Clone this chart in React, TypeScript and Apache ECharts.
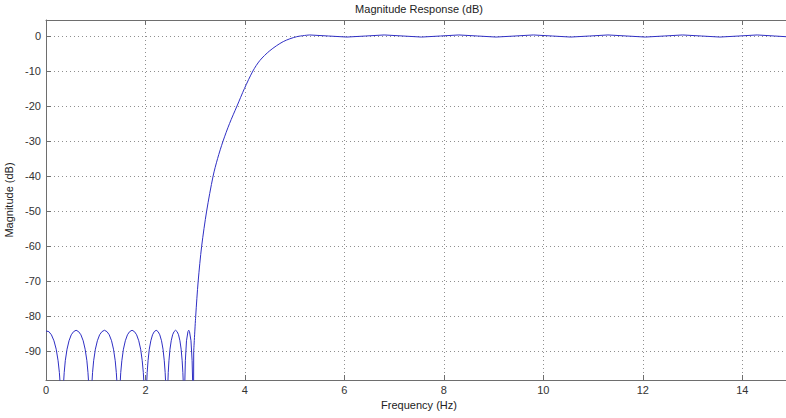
import React, { useEffect, useRef } from 'react';
import * as echarts from 'echarts';

// Stopband lobes (frequency in Hz, magnitude in dB); nulls dip below the visible axis range
const lobe0Freq = [0, 0.058, 0.109, 0.16, 0.205, 0.243, 0.269, 0.288, 0.307, 0.32];
const lobe0Mag = [-84.2, -84.4, -85.3, -87.0, -89.4, -92.7, -96.1, -100, -110, -140];

const lobe1Freq = [0.331, 0.349, 0.366, 0.388, 0.423, 0.463, 0.508, 0.554, 0.605, 0.656, 0.702, 0.748, 0.787, 0.822, 0.844, 0.862, 0.879, 0.89];
const lobe2Freq = [0.901, 0.919, 0.936, 0.958, 0.993, 1.033, 1.078, 1.124, 1.175, 1.226, 1.272, 1.318, 1.357, 1.392, 1.414, 1.432, 1.449, 1.46];
const lobe3Freq = [1.471, 1.487, 1.503, 1.525, 1.557, 1.595, 1.638, 1.681, 1.73, 1.779, 1.822, 1.865, 1.903, 1.935, 1.957, 1.973, 1.989, 2.0];
const lobe4Freq = [2.009, 2.022, 2.034, 2.052, 2.077, 2.108, 2.142, 2.176, 2.215, 2.254, 2.288, 2.323, 2.353, 2.378, 2.396, 2.409, 2.421, 2.43];
const lobe5Freq = [2.437, 2.448, 2.458, 2.472, 2.493, 2.518, 2.546, 2.574, 2.605, 2.637, 2.665, 2.693, 2.717, 2.738, 2.752, 2.763, 2.773, 2.78];
const lobeMag = [-110, -100, -96.1, -92.7, -89.4, -87.0, -85.3, -84.4, -84.0, -84.4, -85.3, -87.0, -89.4, -92.7, -96.1, -100, -110, -140];

const lobe6Freq = [2.789, 2.802, 2.825, 2.854, 2.87, 2.886, 2.915, 2.938, 2.951, 2.96];
const lobe6Mag = [-100, -92.7, -87.0, -84.4, -84.0, -84.4, -87.0, -92.7, -100, -140];

// Transition band
const transFreq = [2.97, 3.01, 3.06, 3.13, 3.23, 3.36, 3.45, 3.56, 3.69, 3.84, 3.99, 4.16, 4.3, 4.5, 4.77, 5.04, 5.3];
const transMag = [-90, -80, -70, -60, -50, -40, -35, -30, -25, -20, -15, -10, -7, -4.2, -1.6, -0.2, 0.3];

// Passband ripple
const passFreq = [5.3, 5.68, 6.05, 6.43, 6.8, 7.18, 7.55, 7.93, 8.3, 8.68, 9.05, 9.43, 9.8, 10.18, 10.55, 10.93, 11.3, 11.68, 12.05, 12.43, 12.8, 13.18, 13.55, 13.93, 14.3, 14.65, 15.0];
const passMag = [0.3, 0, -0.3, 0, 0.3, 0, -0.3, 0, 0.3, 0, -0.3, 0, 0.3, 0, -0.3, 0, 0.3, 0, -0.3, 0, 0.3, 0, -0.3, 0, 0.3, 0, -0.3];

const yTicks = [-90, -80, -70, -60, -50, -40, -30, -20, -10, 0];

const title = 'Magnitude Response (dB)';
const xName = 'Frequency (Hz)';
const yName = 'Magnitude (dB)';

const FONT = '"Liberation Sans", Arial, sans-serif';
const LINE_COLOR = '#2f2fc4';

function pairs(f: number[], m: number[]): number[][] {
  return f.map((v, i) => [v, m[i]]);
}

export default function App() {
  const ref = useRef<HTMLDivElement>(null);
  useEffect(() => {
    if (!ref.current) return;
    const chart = echarts.init(ref.current, undefined, { renderer: 'svg' });
    const stopData = [
      ...pairs(lobe0Freq, lobe0Mag),
      ...pairs(lobe1Freq, lobeMag),
      ...pairs(lobe2Freq, lobeMag),
      ...pairs(lobe3Freq, lobeMag),
      ...pairs(lobe4Freq, lobeMag),
      ...pairs(lobe5Freq, lobeMag),
      ...pairs(lobe6Freq, lobe6Mag),
      [transFreq[0], transMag[0]],
    ];
    const axisColor = '#6e6e6e';
    const gridLine = { show: true, lineStyle: { type: [1, 3] as any, color: '#8f8f8f', width: 1 } };
    const lineBase = {
      type: 'line',
      xAxisIndex: 0,
      yAxisIndex: 0,
      showSymbol: false,
      symbol: 'none',
      clip: true,
      lineStyle: { color: LINE_COLOR, width: 1 },
    };
    chart.setOption({
      animation: false,
      backgroundColor: '#ffffff',
      grid: { left: 46, right: -6, top: 20, bottom: 38, containLabel: false, outerBoundsMode: 'none' },
      graphic: [
        {
          type: 'text',
          x: 419,
          y: 3,
          style: {
            text: title,
            fill: '#222',
            font: `11px ${FONT}`,
            align: 'center',
            verticalAlign: 'top',
            textAlign: 'center',
            textVerticalAlign: 'top',
          },
        },
      ],
      xAxis: [
        {
          type: 'value',
          position: 'bottom',
          min: 0,
          max: 15,
          interval: 2,
          name: xName,
          nameLocation: 'middle',
          nameGap: 17,
          nameTextStyle: { color: '#222', fontSize: 11, fontFamily: FONT },
          axisLine: { show: true, onZero: false, lineStyle: { color: axisColor } },
          axisTick: { show: true, inside: true, length: 5, lineStyle: { color: axisColor } },
          axisLabel: { margin: 4, color: '#333', fontSize: 11, fontFamily: FONT, showMaxLabel: false },
          splitLine: gridLine,
        },
        {
          type: 'value',
          position: 'top',
          min: 0,
          max: 15,
          interval: 2,
          axisLine: { show: true, onZero: false, lineStyle: { color: axisColor } },
          axisTick: { show: true, inside: true, length: 5, lineStyle: { color: axisColor } },
          axisLabel: { show: false },
          splitLine: { show: false },
        },
      ],
      yAxis: [
        {
          type: 'value',
          min: -98.2,
          max: 4.57,
          name: yName,
          nameLocation: 'middle',
          nameGap: 26,
          nameTextStyle: { color: '#222', fontSize: 11, fontFamily: FONT },
          axisLine: { show: true, onZero: false, lineStyle: { color: axisColor } },
          axisTick: { show: true, inside: true, length: 5, customValues: yTicks, lineStyle: { color: axisColor } },
          axisLabel: { customValues: yTicks, margin: 5, color: '#333', fontSize: 11, fontFamily: FONT },
          splitLine: gridLine,
        },
      ],
      series: [
        { ...lineBase, data: stopData },
        { ...lineBase, data: pairs(transFreq, transMag), smooth: 0.3 },
        { ...lineBase, data: pairs(passFreq, passMag) },
      ],
    });
    return () => chart.dispose();
  }, []);
  return <div ref={ref} style={{ position: 'absolute', left: 0, top: 0, width: 786, height: 418 }} />;
}
